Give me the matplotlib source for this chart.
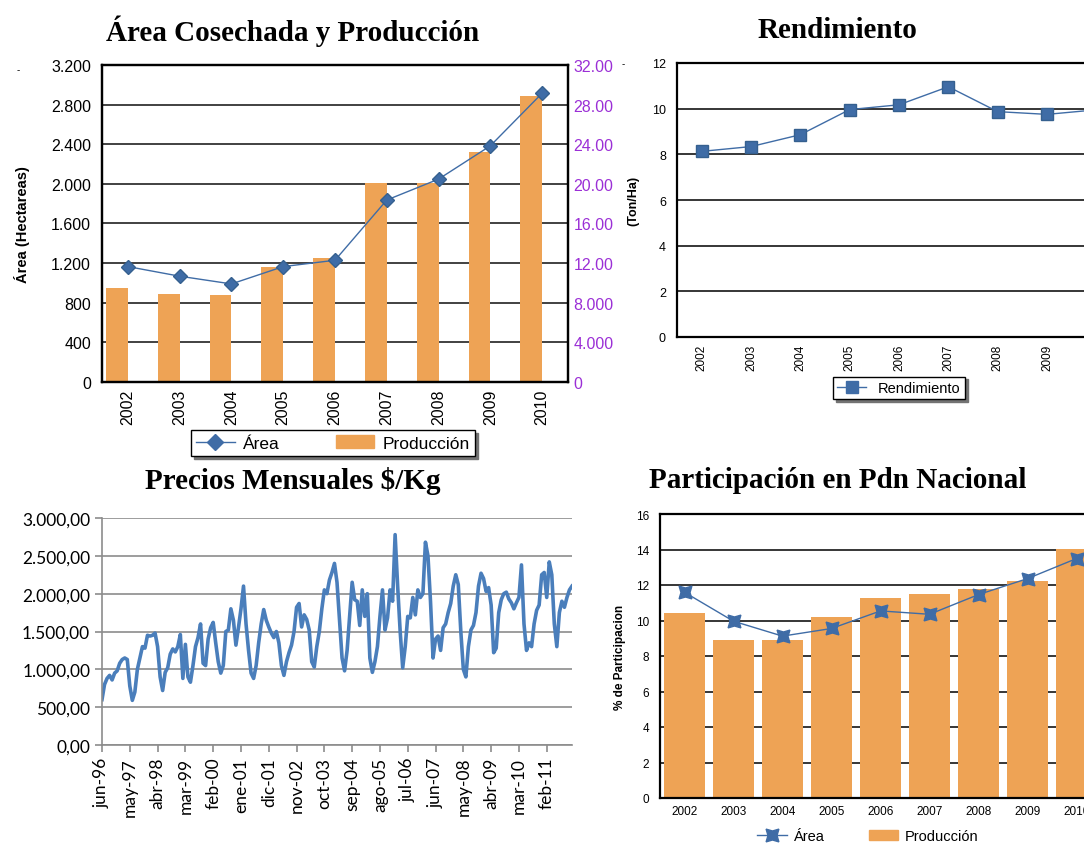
import numpy as np
import matplotlib.pyplot as plt
from matplotlib.lines import Line2D
from matplotlib.patches import Patch

# datos
years = ['2002', '2003', '2004', '2005', '2006', '2007', '2008', '2009', '2010']
area_ha = [1165, 1068, 990, 1165, 1229, 1837, 2048, 2384, 2915]
produccion_ton = [9500, 8900, 8800, 11580, 12490, 20110, 20100, 23200, 28910]
area_ticklabels = ['0', '400', '800', '1.200', '1.600', '2.000', '2.400', '2.800', '3.200']
prod_ticklabels = ['0', '4.000', '8.000', '12.00', '16.00', '20.00', '24.00', '28.00', '32.00']

rendimiento = [8.13, 8.34, 8.86, 9.96, 10.17, 10.96, 9.87, 9.75, 9.95]

part_area = [11.59, 9.96, 9.12, 9.55, 10.54, 10.35, 11.46, 12.36, 13.49]
part_prod = [10.45, 8.91, 8.91, 10.19, 11.25, 11.48, 11.76, 12.21, 14.05]

precio_ticklabels = ['jun-96', 'may-97', 'abr-98', 'mar-99', 'feb-00', 'ene-01', 'dic-01',
                     'nov-02', 'oct-03', 'sep-04', 'ago-05', 'jul-06', 'jun-07', 'may-08',
                     'abr-09', 'mar-10', 'feb-11']
precio_yticklabels = ['0,00', '500,00', '1.000,00', '1.500,00', '2.000,00', '2.500,00', '3.000,00']
# precios mensuales jun-96 .. dic-11
precios = [600, 800, 880, 920, 860, 950, 980, 1080, 1130, 1150,
           1130, 780, 590, 700, 1000, 1150, 1300, 1280, 1450, 1440,
           1450, 1480, 1300, 900, 720, 960, 1020, 1200, 1270, 1230,
           1300, 1460, 880, 1330, 900, 830, 1050, 1300, 1420, 1600,
           1080, 1050, 1400, 1550, 1620, 1350, 1100, 950, 1050, 1500,
           1520, 1800, 1650, 1320, 1550, 1800, 2100, 1600, 1250, 950,
           880, 1050, 1350, 1600, 1790, 1650, 1560, 1480, 1420, 1500,
           1350, 1050, 920, 1100, 1220, 1320, 1500, 1820, 1870, 1560,
           1720, 1660, 1520, 1100, 1030, 1300, 1500, 1800, 2050, 2000,
           2180, 2280, 2400, 2150, 1650, 1150, 980, 1250, 1700, 2150,
           1920, 1900, 1580, 2050, 1700, 2000, 1150, 960, 1100, 1300,
           1700, 2050, 1520, 1680, 2050, 1900, 2780, 2100, 1500, 1020,
           1300, 1700, 1680, 1950, 1720, 2050, 1950, 2000, 2680, 2500,
           1900, 1150, 1400, 1440, 1250, 1550, 1600, 1750, 1870, 2100,
           2250, 2120, 1500, 1000, 900, 1300, 1520, 1580, 1750, 2100,
           2270, 2200, 2030, 2080, 1850, 1220, 1280, 1750, 1920, 2000,
           2020, 1930, 1880, 1800, 1880, 1950, 2380, 1600, 1250, 1350,
           1300, 1600, 1780, 1850, 2250, 2280, 1950, 2420, 2250, 1600,
           1300, 1750, 1900, 1820, 1950, 2050, 2100]

ORANGE = '#EEA355'
BLUE = '#3F6CA6'
PURPLE = '#9B2FD6'
SANS = 'Liberation Sans'
SERIF = 'Liberation Serif'

W, H = 1084, 845
fig = plt.figure(figsize=(W / 100, H / 100), dpi=100)


def px_axes(x0, y0, x1, y1):
    return fig.add_axes([x0 / W, 1 - y1 / H, (x1 - x0) / W, (y1 - y0) / H])


def titulo(x, y, s):
    fig.text(x / W, 1 - y / H, s, ha='center', va='center', family=SERIF,
             weight='bold', size=21)


def marco(ax, lw=1.6):
    for sp in ax.spines.values():
        sp.set_color('black')
        sp.set_linewidth(lw)


x = np.arange(len(years))

# marcas sueltas del original
fig.text(18 / W, 1 - 70 / H, '-', ha='center', va='center', size=7, family=SANS)
fig.text(623 / W, 1 - 64 / H, '-', ha='center', va='center', size=7, family=SANS)

# --- Área Cosechada y Producción ---
titulo(293, 31, 'Área Cosechada y Producción')
ax1 = px_axes(102, 66, 568, 383)
ax1r = ax1.twinx()
ax1r.bar(x - 0.21, produccion_ton, width=0.42, color=ORANGE, zorder=2)
ax1r.set_ylim(0, 32000)
ax1r.set_yticks(np.arange(0, 32001, 4000))
ax1r.set_yticklabels(prod_ticklabels, color=PURPLE, family=SANS, size=11.5)
ax1r.set_axisbelow(True)
ax1r.yaxis.grid(True, color='#333333', lw=1.3)
ax1r.tick_params(axis='y', length=0, pad=4)
ax1.set_zorder(ax1r.get_zorder() + 1)
ax1.patch.set_visible(False)
ax1.plot(x, area_ha, color=BLUE, lw=1, marker='D', ms=7, mfc=BLUE, mec='#35608F')
ax1.set_ylim(0, 3200)
ax1.set_yticks(np.arange(0, 3201, 400))
ax1.set_yticklabels(area_ticklabels, family=SANS, size=11.5)
ax1.set_xlim(-0.5, 8.5)
ax1.set_xticks(x)
ax1.set_xticklabels(years, rotation=90, family=SANS, size=11.5)
ax1.tick_params(axis='y', length=0, pad=8)
ax1.tick_params(axis='x', length=0, pad=5)
ax1.set_ylabel('Área (Hectareas)', family=SANS, weight='bold', size=10.5, labelpad=15)
marco(ax1)
marco(ax1r)
h1 = [Line2D([], [], color=BLUE, lw=1, marker='D', ms=8, mfc=BLUE),
      Patch(color=ORANGE)]
ax1.legend(h1, ['Área', 'Producción'], loc='center', ncol=2,
           bbox_to_anchor=(333 / W, 1 - 444 / H), bbox_transform=fig.transFigure,
           frameon=True, fancybox=False, edgecolor='black', framealpha=1,
           prop={'family': SANS, 'size': 12.5}, columnspacing=3.2, handlelength=2.2,
           handletextpad=0.5, borderpad=0.3, shadow={'color': '0.45', 'alpha': 1})

# --- Rendimiento ---
titulo(838, 31, 'Rendimiento')
ax2 = px_axes(677, 64, 1121, 338)
ax2.set_axisbelow(True)
ax2.yaxis.grid(True, color='black', lw=1.1)
ax2.plot(x, rendimiento, color=BLUE, lw=1, marker='s', ms=8, mfc=BLUE, mec='#35608F')
ax2.set_ylim(0, 12)
ax2.set_yticks(np.arange(0, 13, 2))
ax2.set_xlim(-0.5, 8.5)
ax2.set_xticks(x)
ax2.set_xticklabels(years, rotation=90, family=SANS, size=8.5)
for lab in ax2.get_yticklabels():
    lab.set_family(SANS)
    lab.set_size(9)
ax2.tick_params(axis='y', length=0, pad=8)
ax2.tick_params(axis='x', length=0, pad=5)
ax2.set_ylabel('(Ton/Ha)', family=SANS, weight='bold', size=9, labelpad=9)
marco(ax2)
h2 = [Line2D([], [], color=BLUE, lw=1, marker='s', ms=9, mfc=BLUE)]
ax2.legend(h2, ['Rendimiento'], loc='center',
           bbox_to_anchor=(899 / W, 1 - 389 / H), bbox_transform=fig.transFigure,
           frameon=True, fancybox=False, edgecolor='black', framealpha=1,
           prop={'family': SANS, 'size': 10.5}, handlelength=2,
           borderpad=0.3, shadow={'color': '0.45', 'alpha': 1})

# --- Precios Mensuales ---
titulo(293, 481, 'Precios Mensuales $/Kg')
ax3 = px_axes(102, 519, 572, 746)
ax3.set_axisbelow(True)
ax3.yaxis.grid(True, color='#8C8C8C', lw=1.2)
ax3.plot(np.arange(len(precios)), precios, color='#4A7EBB', lw=2.6,
         solid_joinstyle='round')
ax3.set_ylim(0, 3000)
ax3.set_yticks(np.arange(0, 3001, 500))
ax3.set_yticklabels(precio_yticklabels, family='Lato', size=12.5)
ax3.set_xlim(0, len(precios) - 1)
ax3.set_xticks(np.arange(0, len(precios), 11))
ax3.set_xticklabels(precio_ticklabels, rotation=90, family='Lato', size=12.5)
ax3.tick_params(axis='both', length=5, color='#8C8C8C', width=1.2)
for side in ['top', 'right']:
    ax3.spines[side].set_visible(False)
for side in ['left', 'bottom']:
    ax3.spines[side].set_color('#8C8C8C')
    ax3.spines[side].set_linewidth(1.2)

# --- Participación en Pdn Nacional ---
titulo(838, 481, 'Participación en Pdn Nacional')
ax4 = px_axes(660, 515, 1101, 799)
ax4.set_axisbelow(True)
ax4.yaxis.grid(True, color='black', lw=1.1)
ax4.bar(x, part_prod, width=0.82, color=ORANGE, zorder=2)
ax4.plot(x, part_area, color=BLUE, lw=1, marker=(4, 1, 45), ms=13, mfc=BLUE,
         mec=BLUE, zorder=3)
ax4.set_ylim(0, 16)
ax4.set_yticks(np.arange(0, 17, 2))
ax4.set_xlim(-0.5, 8.5)
ax4.set_xticks(x)
ax4.set_xticklabels(years, family=SANS, size=8.5)
for lab in ax4.get_yticklabels():
    lab.set_family(SANS)
    lab.set_size(8.5)
ax4.tick_params(axis='y', length=0, pad=8)
ax4.tick_params(axis='x', length=0, pad=5)
ax4.set_ylabel('% de Participacion', family=SANS, weight='bold', size=8.5, labelpad=7)
marco(ax4)
h4 = [Line2D([], [], color=BLUE, lw=1, marker=(4, 1, 45), ms=13, mfc=BLUE),
      Patch(color=ORANGE)]
ax4.legend(h4, ['Área', 'Producción'], loc='center', ncol=2,
           bbox_to_anchor=(868 / W, 1 - 837 / H), bbox_transform=fig.transFigure,
           frameon=False, prop={'family': SANS, 'size': 10.5}, columnspacing=3.0,
           handlelength=2.0, handletextpad=0.5)

fig.savefig('out.png', dpi=100)
